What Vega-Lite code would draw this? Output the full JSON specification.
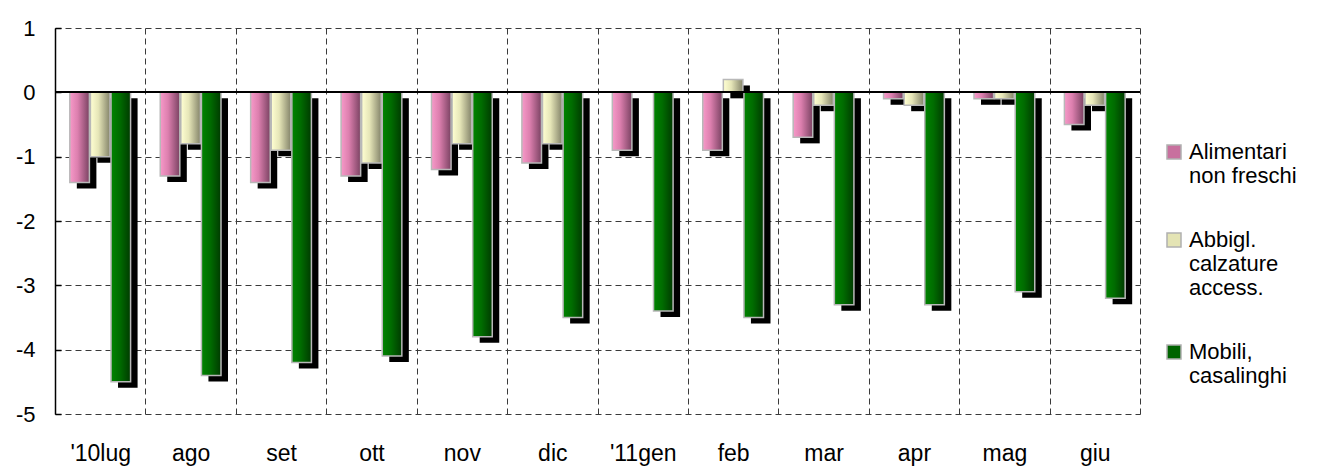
{
  "$schema": "https://vega.github.io/schema/vega-lite/v6.json",
  "width": 1085,
  "height": 386,
  "autosize": "none",
  "padding": {"left": 55, "top": 28, "right": 180, "bottom": 55},
  "background": "white",
  "config": {
    "view": {"stroke": null},
    "font": "Liberation Sans"
  },
  "resolve": {"scale": {"xOffset": "independent"}},
  "data": {
    "values": [
      {"m": "'10lug", "s": "Alimentari non freschi", "v": -1.4},
      {"m": "'10lug", "s": "Abbigl. calzature access.", "v": -1.0},
      {"m": "'10lug", "s": "Mobili, casalinghi", "v": -4.5},
      {"m": "ago", "s": "Alimentari non freschi", "v": -1.3},
      {"m": "ago", "s": "Abbigl. calzature access.", "v": -0.8},
      {"m": "ago", "s": "Mobili, casalinghi", "v": -4.4},
      {"m": "set", "s": "Alimentari non freschi", "v": -1.4},
      {"m": "set", "s": "Abbigl. calzature access.", "v": -0.9},
      {"m": "set", "s": "Mobili, casalinghi", "v": -4.2},
      {"m": "ott", "s": "Alimentari non freschi", "v": -1.3},
      {"m": "ott", "s": "Abbigl. calzature access.", "v": -1.1},
      {"m": "ott", "s": "Mobili, casalinghi", "v": -4.1},
      {"m": "nov", "s": "Alimentari non freschi", "v": -1.2},
      {"m": "nov", "s": "Abbigl. calzature access.", "v": -0.8},
      {"m": "nov", "s": "Mobili, casalinghi", "v": -3.8},
      {"m": "dic", "s": "Alimentari non freschi", "v": -1.1},
      {"m": "dic", "s": "Abbigl. calzature access.", "v": -0.8},
      {"m": "dic", "s": "Mobili, casalinghi", "v": -3.5},
      {"m": "'11gen", "s": "Alimentari non freschi", "v": -0.9},
      {"m": "'11gen", "s": "Abbigl. calzature access.", "v": 0},
      {"m": "'11gen", "s": "Mobili, casalinghi", "v": -3.4},
      {"m": "feb", "s": "Alimentari non freschi", "v": -0.9},
      {"m": "feb", "s": "Abbigl. calzature access.", "v": 0.2},
      {"m": "feb", "s": "Mobili, casalinghi", "v": -3.5},
      {"m": "mar", "s": "Alimentari non freschi", "v": -0.7},
      {"m": "mar", "s": "Abbigl. calzature access.", "v": -0.2},
      {"m": "mar", "s": "Mobili, casalinghi", "v": -3.3},
      {"m": "apr", "s": "Alimentari non freschi", "v": -0.1},
      {"m": "apr", "s": "Abbigl. calzature access.", "v": -0.2},
      {"m": "apr", "s": "Mobili, casalinghi", "v": -3.3},
      {"m": "mag", "s": "Alimentari non freschi", "v": -0.1},
      {"m": "mag", "s": "Abbigl. calzature access.", "v": -0.1},
      {"m": "mag", "s": "Mobili, casalinghi", "v": -3.1},
      {"m": "giu", "s": "Alimentari non freschi", "v": -0.5},
      {"m": "giu", "s": "Abbigl. calzature access.", "v": -0.2},
      {"m": "giu", "s": "Mobili, casalinghi", "v": -3.2}
    ]
  },
  "encoding": {
    "x": {
      "field": "m",
      "type": "nominal",
      "sort": null,
      "scale": {"paddingInner": 0, "paddingOuter": 0},
      "axis": {
        "title": null,
        "orient": "bottom",
        "domain": false,
        "ticks": false,
        "grid": true,
        "tickBand": "extent",
        "gridColor": "#3a3a3a",
        "gridDash": [6, 4],
        "gridWidth": 1,
        "labelAngle": 0,
        "labelFontSize": 23,
        "labelFont": "Liberation Sans",
        "labelColor": "#000000",
        "labelPadding": 28
      }
    },
    "y": {
      "field": "v",
      "type": "quantitative",
      "scale": {"domain": [-5, 1], "nice": false, "zero": false},
      "axis": {
        "title": null,
        "values": [-5, -4, -3, -2, -1, 0, 1],
        "labelExpr": "'' + datum.value",
        "grid": true,
        "gridColor": "#3a3a3a",
        "gridDash": [6, 4],
        "gridWidth": 1,
        "domain": true,
        "domainColor": "#000000",
        "domainWidth": 1.5,
        "ticks": true,
        "tickSize": -6,
        "tickColor": "#000000",
        "tickWidth": 1.5,
        "labelFontSize": 22,
        "labelFont": "Liberation Sans",
        "labelColor": "#000000",
        "labelPadding": 26
      }
    }
  },
  "layer": [
    {
      "mark": {"type": "bar", "color": "#000000", "yOffset": 6, "y2Offset": 6},
      "encoding": {
        "xOffset": {
          "field": "s",
          "type": "nominal",
          "sort": null,
          "scale": {"paddingOuter": 0.72, "paddingInner": 0.05, "range": [7, 97.4167]}
        }
      }
    },
    {
      "mark": {"type": "bar"},
      "encoding": {
        "xOffset": {
          "field": "s",
          "type": "nominal",
          "sort": null,
          "scale": {"paddingOuter": 0.72, "paddingInner": 0.05}
        },
        "fill": {
          "field": "s",
          "type": "nominal",
          "sort": null,
          "scale": {
            "domain": ["Alimentari non freschi", "Abbigl. calzature access.", "Mobili, casalinghi"],
            "range": ["#c8709e", "#e4e4b4", "#006400"]
          },
          "legend": {
            "title": null,
            "orient": "none",
            "legendX": 1108,
            "legendY": 113,
            "padding": 0,
            "symbolType": "square",
            "symbolSize": 196,
            "symbolStrokeColor": "#b0b0b0",
            "symbolStrokeWidth": 1.5,
            "labelFont": "Liberation Sans",
            "labelFontSize": 22,
            "labelColor": "#000000",
            "labelLimit": 0,
            "labelOffset": 4,
            "rowPadding": 42,
            "labelExpr": "datum.label == 'Alimentari non freschi' ? ['Alimentari', 'non freschi'] : datum.label == 'Abbigl. calzature access.' ? ['Abbigl.', 'calzature', 'access.'] : ['Mobili,', 'casalinghi']"
          }
        }
      }
    },
    {
      "mark": {"type": "bar", "stroke": "#b8b8b8", "strokeWidth": 1.5},
      "encoding": {
        "xOffset": {
          "field": "s",
          "type": "nominal",
          "sort": null,
          "scale": {"paddingOuter": 0.72, "paddingInner": 0.05}
        },
        "fill": {
          "condition": [
            {
              "test": "datum.s === 'Alimentari non freschi'",
              "value": {"gradient": "linear", "x1": 0, "y1": 0, "x2": 1, "y2": 0,
                "stops": [{"offset": 0, "color": "#f79ac9"}, {"offset": 0.4, "color": "#dc7fae"}, {"offset": 1, "color": "#7a4262"}]}
            },
            {
              "test": "datum.s === 'Abbigl. calzature access.'",
              "value": {"gradient": "linear", "x1": 0, "y1": 0, "x2": 1, "y2": 0,
                "stops": [{"offset": 0, "color": "#ffffd2"}, {"offset": 0.4, "color": "#e6e6b8"}, {"offset": 1, "color": "#84846a"}]}
            }
          ],
          "value": {"gradient": "linear", "x1": 0, "y1": 0, "x2": 1, "y2": 0,
            "stops": [{"offset": 0, "color": "#008400"}, {"offset": 0.45, "color": "#006c00"}, {"offset": 1, "color": "#003a00"}]}
        }
      }
    },
    {
      "mark": {"type": "rule", "color": "#000000", "strokeWidth": 1.5},
      "encoding": {"y": {"datum": 0}, "x": {"value": 0}, "x2": {"value": 1085}}
    }
  ]
}
